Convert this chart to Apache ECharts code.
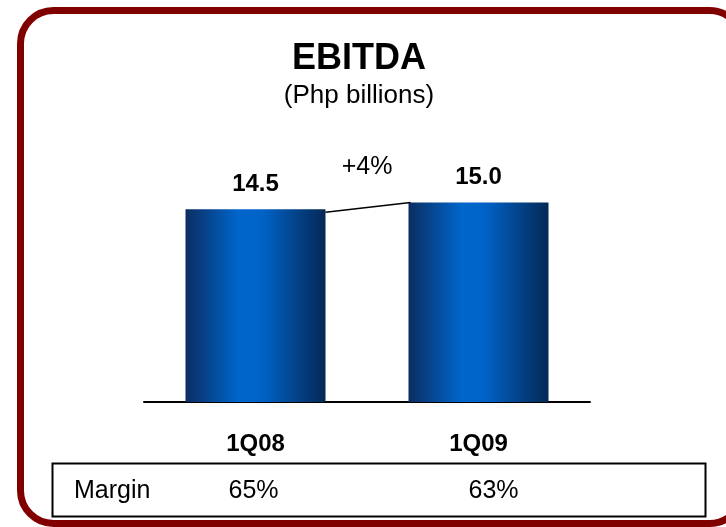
<!DOCTYPE html>
<html>
<head>
<meta charset="utf-8">
<script src="https://cdn.jsdelivr.net/npm/echarts@6/dist/echarts.min.js"></script>
<style>
html,body{margin:0;padding:0;background:#fff;}
#c{width:726px;height:527px;}
</style>
</head>
<body>
<div id="c"></div>
<script>
var categories = ['1Q08', '1Q09'];
var ebitda = [14.5, 15.0];
var valueLabels = ['14.5', '15.0'];
var growthLabel = '+4%';
var marginLabel = 'Margin';
var margins = ['65%', '63%'];
var titleText = 'EBITDA';
var subText = '(Php billions)';

var FONT = 'Liberation Sans, Arial, sans-serif';
var chart = echarts.init(document.getElementById('c'), null, {renderer: 'canvas'});

var barGradient = new echarts.graphic.LinearGradient(0, 0, 1, 0, [
  {offset: 0, color: '#0b2d62'},
  {offset: 0.38, color: '#0066cc'},
  {offset: 0.55, color: '#0062c6'},
  {offset: 1, color: '#052856'}
]);

chart.setOption({
  backgroundColor: '#ffffff',
  animation: false,
  grid: {left: 144, right: 136, top: 136, bottom: 125},
  xAxis: {
    type: 'category',
    data: categories,
    axisLine: {show: true, lineStyle: {color: '#000', width: 2}},
    axisTick: {show: false},
    axisLabel: {fontFamily: FONT, fontSize: 24, fontWeight: 'bold', color: '#000', margin: 30}
  },
  yAxis: {
    type: 'value', min: 0, max: 20, show: false,
    splitLine: {show: false}
  },
  series: [{
    type: 'bar',
    data: ebitda,
    barWidth: 140,
    itemStyle: {color: barGradient},
    label: {
      show: true, position: 'top', distance: 13,
      formatter: function (p) { return valueLabels[p.dataIndex]; },
      fontFamily: FONT, fontSize: 24, fontWeight: 'bold', color: '#000'
    }
  }]
});

var p0 = chart.convertToPixel({seriesIndex: 0}, [0, ebitda[0]]);
var p1 = chart.convertToPixel({seriesIndex: 0}, [1, ebitda[1]]);
var halfW = 70;
var lx0 = p0[0] + halfW, ly0 = p0[1] + 3;
var lx1 = p1[0] - halfW + 2, ly1 = p1[1];

chart.setOption({
  graphic: [
    {type: 'rect', z: 100, silent: true,
     shape: {x: 20.5, y: 10.5, width: 722, height: 513, r: 33},
     style: {fill: null, stroke: '#800000', lineWidth: 7}},
    {type: 'text', z: 50, silent: true, x: 359, y: 59,
     style: {text: titleText, font: 'bold 36px ' + FONT, fill: '#000', align: 'center', verticalAlign: 'middle'}},
    {type: 'text', z: 50, silent: true, x: 359, y: 96,
     style: {text: subText, font: '26px ' + FONT, fill: '#000', align: 'center', verticalAlign: 'middle'}},
    {type: 'line', z: 50, silent: true,
     shape: {x1: lx0, y1: ly0, x2: lx1, y2: ly1},
     style: {stroke: '#000', lineWidth: 1.5}},
    {type: 'text', z: 50, silent: true,
     x: (p0[0] + p1[0]) / 2, y: (ly0 + ly1) / 2 - 40,
     style: {text: growthLabel, font: '25px ' + FONT, fill: '#000', align: 'center', verticalAlign: 'middle'}},
    {type: 'rect', z: 50, silent: true,
     shape: {x: 52.5, y: 463.5, width: 653, height: 53},
     style: {fill: null, stroke: '#000', lineWidth: 2}},
    {type: 'text', z: 50, silent: true,
     x: 74, y: 491,
     style: {text: marginLabel, font: '25px ' + FONT, fill: '#000', align: 'left', verticalAlign: 'middle'}},
    {type: 'text', z: 50, silent: true,
     x: p0[0] - 2, y: 491,
     style: {text: margins[0], font: '25px ' + FONT, fill: '#000', align: 'center', verticalAlign: 'middle'}},
    {type: 'text', z: 50, silent: true,
     x: p1[0] + 15, y: 491,
     style: {text: margins[1], font: '25px ' + FONT, fill: '#000', align: 'center', verticalAlign: 'middle'}}
  ]
});
</script>
</body>
</html>
